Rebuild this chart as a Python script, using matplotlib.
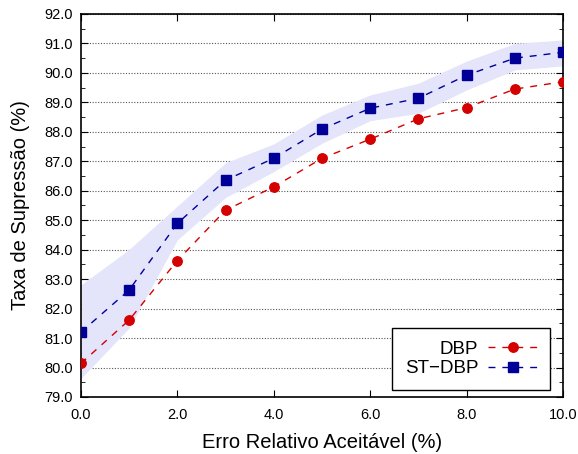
import matplotlib.pyplot as plt
import numpy as np

plt.rcParams['font.family'] = ['Liberation Sans', 'DejaVu Sans']

x = np.array([0, 1, 2, 3, 4, 5, 6, 7, 8, 9, 10])
dbp = np.array([80.14, 81.61, 83.63, 85.34, 86.13, 87.10, 87.75, 88.44, 88.82, 89.45, 89.70])
st_dbp = np.array([81.20, 82.63, 84.89, 86.36, 87.10, 88.09, 88.80, 89.14, 89.92, 90.50, 90.70])
st_low = np.array([79.63, 81.34, 84.33, 85.77, 86.65, 87.61, 88.38, 88.63, 89.42, 90.10, 90.24])
st_high = np.array([82.80, 84.01, 85.48, 86.95, 87.59, 88.57, 89.25, 89.65, 90.40, 91.00, 91.12])

fig = plt.figure(figsize=(5.78, 4.54), dpi=100)
ax = fig.add_axes([0.140, 0.1256, 0.834, 0.8436])

ax.fill_between(x, st_low, st_high, color='#e4e4fa', lw=0, zorder=1)
ax.plot(x, dbp, ls=(0, (5, 5)), color='#d40000', lw=1, marker='o', ms=6.8,
        label='DBP', zorder=3)
ax.plot(x, st_dbp, ls=(0, (5, 5)), color='#000099', lw=1, marker='s', ms=7.5,
        label='ST\u2212DBP', zorder=3)

ax.set_xlim(0, 10)
ax.set_ylim(79, 92)
ax.set_xticks(np.arange(0, 10.1, 2))
ax.set_xticklabels(['%.1f' % v for v in np.arange(0, 10.1, 2)])
ax.set_yticks(np.arange(79, 92.1, 1))
ax.set_yticklabels(['%.1f' % v for v in np.arange(79, 92.1, 1)])
ax.set_yticks(np.arange(79.5, 92, 1), minor=True)
ax.tick_params(which='both', direction='in', top=True, right=True, labelsize=10.5)
ax.tick_params(axis='x', pad=8)
ax.tick_params(axis='y', pad=6)
ax.tick_params(which='major', length=5)
ax.tick_params(which='minor', length=3)
ax.yaxis.grid(True, ls=(0, (1, 1.5)), color='#555555', lw=0.8)
ax.set_axisbelow(True)
for s in ax.spines.values():
    s.set_linewidth(1.2)

ax.set_xlabel('Erro Relativo Aceitável (%)', fontsize=14.5, labelpad=8)
ax.set_ylabel('Taxa de Supressão (%)', fontsize=14.5, labelpad=10)

leg = ax.legend(loc='lower right', markerfirst=False, fontsize=13.5, fancybox=False,
                edgecolor='black', framealpha=1, handlelength=2.6, handletextpad=0.55,
                borderpad=0.68, labelspacing=0.12, borderaxespad=0,
                bbox_to_anchor=(0.973, 0.018))
leg.get_frame().set_linewidth(1.0)

plt.savefig('out.png', dpi=100)
